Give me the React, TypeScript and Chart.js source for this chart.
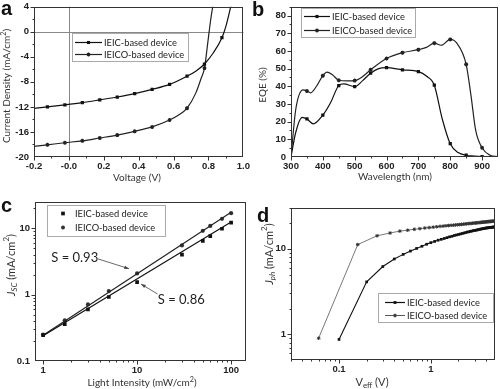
import React, { useEffect, useRef } from "react";
import { Chart, registerables } from "chart.js";
Chart.register(...registerables);

const FONT = "Lato, 'Liberation Sans', sans-serif";
const TICKFONT = "'Liberation Sans', Arial, sans-serif";
const AXIS = "#333";
const LABEL_IEIC = "IEIC-based device";
const LABEL_IEICO = "IEICO-based device";

// ---------- panel a : J-V ----------
const jvVoltIEIC = [-0.2, -0.123, -0.023, 0.077, 0.177, 0.277, 0.377, 0.477, 0.577, 0.677, 0.727, 0.777, 0.827, 0.877, 0.9, 0.93];
const jvCurIEIC = [-12.25, -12.0, -11.68, -11.32, -10.88, -10.42, -9.88, -9.2, -8.4, -7.1, -6.3, -5.15, -3.4, -0.95, 0.9, 4.3];
const jvMarkIEIC = [1, 2, 3, 4, 5, 6, 7, 8, 9, 11, 13];
const jvVoltIEICO = [-0.2, -0.123, -0.023, 0.077, 0.177, 0.277, 0.377, 0.477, 0.577, 0.627, 0.677, 0.727, 0.757, 0.777, 0.797, 0.812, 0.83];
const jvCurIEICO = [-18.3, -18.05, -17.72, -17.42, -16.97, -16.5, -15.9, -15.2, -14.1, -13.35, -12.2, -9.8, -7.5, -5.8, -1.5, 1.8, 5.0];
const jvMarkIEICO = [1, 2, 3, 4, 5, 6, 7, 8, 10, 13];
const aMinorX = [-0.1, 0.1, 0.3, 0.5, 0.7, 0.9];
const aMinorY = [-18, -14, -10, -6, -2, 2];

// ---------- panel b : EQE ----------
const eqeWlIEIC = [300, 315, 335, 350, 370, 400, 425, 450, 466, 500, 525, 550, 575, 600, 650, 700, 725, 750, 775, 800, 825, 850, 875, 900, 950];
const eqeIEIC = [0, 14, 22.4, 21.5, 18.7, 23.7, 31, 40.4, 41.3, 39.8, 43.2, 47.4, 50, 50.5, 49.3, 48.3, 45.8, 40.6, 21.5, 7.5, 2.5, 1.0, 0.5, 0.2, 0.1];
const eqeMarkIEIC = [3, 5, 7, 9, 11, 13, 14, 15, 17, 19, 21, 23];
const eqeWlIEICO = [300, 315, 338, 350, 362, 380, 400, 413, 430, 450, 475, 500, 525, 550, 600, 650, 700, 725, 750, 772, 800, 820, 850, 865, 880, 900, 925, 950];
const eqeIEICO = [0, 27, 38, 37.3, 36.3, 40, 46, 48, 46.5, 43.4, 43, 43.2, 45.5, 49.3, 55.7, 59, 60.7, 62, 64.4, 63.2, 66.5, 64.5, 52.4, 35, 15, 5.2, 1.0, 0.2];
const eqeMarkIEICO = [3, 6, 9, 11, 13, 14, 15, 16, 18, 20, 22, 25];
const bMinorX = [350, 450, 550, 650, 750, 850];
const bMinorY = [5, 15, 25, 35, 45, 55, 65, 75, 85];

// ---------- panel c : Jsc vs light intensity ----------
const lightInt = [1, 1.7, 3, 5, 10, 30, 50, 60, 80, 100];
const jscIEIC = [0.245, 0.36, 0.6, 0.92, 1.54, 4.0, 6.45, 7.6, 9.8, 12.1];
const jscIEICO = [0.25, 0.41, 0.71, 1.13, 2.08, 5.5, 9.1, 10.8, 13.8, 16.8];
const fitX = [1, 100];
const fitIEIC = [0.24, 12.4];
const fitIEICO = [0.245, 17.3];
const cTicksX = [1, 10, 100];
const cTicksY = [0.1, 1, 10];
const cMinorX = [2, 3, 4, 5, 6, 7, 8, 9, 20, 30, 40, 50, 60, 70, 80, 90];
const cMinorY = [0.2, 0.3, 0.4, 0.5, 0.6, 0.7, 0.8, 0.9, 2, 3, 4, 5, 6, 7, 8, 9, 20];
const cNotes = [
  { text: "S = 0.93", x: 2.17, y: 3.6 },
  { text: "S = 0.86", x: 29.5, y: 0.83 },
];
const cArrows = [
  { x0: 3.82, y0: 3.45, x1: 8.2, y1: 2.45 },
  { x0: 16.5, y0: 1.02, x1: 11.0, y1: 1.44 },
];

// ---------- panel d : Jph vs Veff ----------
const veffIEIC = [0.1, 0.2, 0.3, 0.4, 0.5, 0.6, 0.7, 0.8, 0.9, 1.0, 1.1, 1.2, 1.3, 1.4, 1.5, 1.6, 1.7, 1.8, 1.9, 2.0, 2.1, 2.2, 2.3, 2.4, 2.5, 2.6, 2.7, 2.8, 2.9, 3.0, 3.1, 3.2, 3.3, 3.4, 3.5, 3.6, 3.7, 3.8, 3.9, 4.0, 4.1, 4.2, 4.3, 4.4, 4.5, 4.6, 4.7, 4.8, 4.9, 5.0];
const jphIEIC = [0.87, 4.1, 6.2, 7.6, 8.6, 9.4, 10.1, 10.7, 11.3, 11.8, 12.2, 12.6, 12.9, 13.2, 13.5, 13.8, 14.0, 14.3, 14.5, 14.7, 14.9, 15.1, 15.3, 15.5, 15.7, 15.8, 16.0, 16.1, 16.3, 16.4, 16.5, 16.6, 16.8, 16.9, 17.0, 17.1, 17.2, 17.3, 17.4, 17.5, 17.55, 17.6, 17.7, 17.75, 17.8, 17.85, 17.9, 17.95, 18.0, 18.05];
const veffIEICO = [0.06, 0.16, 0.26, 0.36, 0.46, 0.56, 0.66, 0.76, 0.86, 0.96, 1.06, 1.16, 1.26, 1.36, 1.46, 1.56, 1.66, 1.76, 1.86, 1.96, 2.06, 2.16, 2.26, 2.36, 2.46, 2.56, 2.66, 2.76, 2.86, 2.96, 3.06, 3.16, 3.26, 3.36, 3.46, 3.56, 3.66, 3.76, 3.86, 3.96, 4.06, 4.16, 4.26, 4.36, 4.46, 4.56, 4.66, 4.76, 4.86, 4.96];
const jphIEICO = [0.9, 11.2, 14.2, 15.3, 16.1, 16.5, 16.9, 17.2, 17.5, 17.7, 17.9, 18.1, 18.3, 18.4, 18.6, 18.7, 18.8, 18.9, 19.0, 19.1, 19.2, 19.3, 19.4, 19.5, 19.6, 19.7, 19.75, 19.8, 19.9, 20.0, 20.05, 20.1, 20.2, 20.25, 20.3, 20.4, 20.45, 20.5, 20.55, 20.6, 20.7, 20.75, 20.8, 20.85, 20.9, 20.95, 21.0, 21.05, 21.1, 21.15];
const dTicksX = [0.1, 1];
const dTicksY = [1, 10];
const dMinorX = [0.03, 0.04, 0.05, 0.06, 0.07, 0.08, 0.09, 0.2, 0.3, 0.4, 0.5, 0.6, 0.7, 0.8, 0.9, 2, 3, 4, 5];
const dMinorY = [0.5, 0.6, 0.7, 0.8, 0.9, 2, 3, 4, 5, 6, 7, 8, 9, 20, 30];

type Seg = { t: string; it?: boolean; sub?: boolean; sup?: boolean };

function drawRich(ctx: CanvasRenderingContext2D, segs: Seg[], cx: number, cy: number, rot: boolean, size: number) {
  ctx.save();
  ctx.translate(cx, cy);
  if (rot) ctx.rotate(-Math.PI / 2);
  const fontOf = (s: Seg) => `${s.it ? "italic " : ""}${s.sub || s.sup ? size * 0.72 : size}px ${FONT}`;
  let w = 0;
  segs.forEach((s) => { ctx.font = fontOf(s); w += ctx.measureText(s.t).width; });
  let x = -w / 2;
  ctx.textBaseline = "middle";
  ctx.textAlign = "left";
  ctx.fillStyle = "#333";
  segs.forEach((s) => {
    ctx.font = fontOf(s);
    const dy = s.sub ? size * 0.32 : s.sup ? -size * 0.38 : 0;
    ctx.fillText(s.t, x, dy);
    x += ctx.measureText(s.t).width;
  });
  ctx.restore();
}

function drawMark(ctx: CanvasRenderingContext2D, style: string, x: number, y: number, r: number, color: string) {
  ctx.save();
  ctx.fillStyle = color;
  ctx.strokeStyle = color;
  if (style === "rect") {
    const s = r * Math.SQRT1_2;
    ctx.fillRect(x - s, y - s, 2 * s, 2 * s);
  } else if (style === "circle") {
    ctx.beginPath();
    ctx.arc(x, y, r, 0, Math.PI * 2);
    ctx.fill();
  } else {
    ctx.lineWidth = 1.2;
    ctx.beginPath();
    for (let k = 0; k < 4; k++) {
      const a = (k * Math.PI) / 4;
      ctx.moveTo(x - Math.cos(a) * r, y - Math.sin(a) * r);
      ctx.lineTo(x + Math.cos(a) * r, y + Math.sin(a) * r);
    }
    ctx.stroke();
  }
  ctx.restore();
}

const decorPlugin = {
  id: "decor",
  beforeDatasetsDraw(chart: any, _a: any, o: any) {
    if (!o || !o.zero) return;
    const { ctx, chartArea: ca, scales } = chart;
    ctx.save();
    ctx.strokeStyle = "#888";
    ctx.lineWidth = 1;
    const px = Math.round(scales.x.getPixelForValue(0)) + 0.5;
    const py = Math.round(scales.y.getPixelForValue(0)) + 0.5;
    ctx.beginPath();
    ctx.moveTo(px, ca.top);
    ctx.lineTo(px, ca.bottom);
    ctx.moveTo(ca.left, py);
    ctx.lineTo(ca.right, py);
    ctx.stroke();
    ctx.restore();
  },
  afterDraw(chart: any, _a: any, o: any) {
    const { ctx, chartArea: ca, scales } = chart;
    const xs = scales.x, ys = scales.y;
    ctx.save();
    ctx.strokeStyle = AXIS;
    ctx.lineWidth = 1;
    const L = Math.round(ca.left) + 0.5, R = Math.round(ca.right) - 0.5;
    const T = Math.round(ca.top) + 0.5, B = Math.round(ca.bottom) - 0.5;
    ctx.strokeRect(L, T, R - L, B - T);
    ctx.beginPath();
    const xt = (v: number, len: number) => {
      const p = Math.round(xs.getPixelForValue(v)) + 0.5;
      if (p < L - 0.6 || p > R + 0.6) return;
      ctx.moveTo(p, B); ctx.lineTo(p, B + len);
    };
    const yt = (v: number, len: number) => {
      const p = Math.round(ys.getPixelForValue(v)) + 0.5;
      if (p < T - 0.6 || p > B + 0.6) return;
      ctx.moveTo(L, p); ctx.lineTo(L - len, p);
    };
    xs.ticks.forEach((t: any) => xt(t.value, 4));
    (o.minorX || []).forEach((v: number) => xt(v, 2));
    ys.ticks.forEach((t: any) => yt(t.value, 4));
    (o.minorY || []).forEach((v: number) => yt(v, 2));
    ctx.stroke();

    if (o.legend) {
      const lg = o.legend;
      ctx.fillStyle = "#fff";
      ctx.fillRect(lg.x, lg.y, lg.w, lg.h);
      ctx.strokeStyle = "#aaa";
      ctx.strokeRect(lg.x + 0.5, lg.y + 0.5, lg.w, lg.h);
      lg.rows.forEach((r: any) => {
        if (r.x1 > r.x0) {
          ctx.strokeStyle = r.color;
          ctx.lineWidth = r.lw || 1.2;
          ctx.beginPath();
          ctx.moveTo(r.x0, r.y + 0.5);
          ctx.lineTo(r.x1, r.y + 0.5);
          ctx.stroke();
        }
        drawMark(ctx, r.mark, (r.x0 + r.x1) / 2, r.y + 0.5, r.mr || 2.2, r.color);
        ctx.fillStyle = "#222";
        ctx.font = `9.3px ${FONT}`;
        ctx.textBaseline = "middle";
        ctx.textAlign = "left";
        ctx.fillText(r.label, r.tx, r.y + 0.5);
      });
    }
    (o.arrows || []).forEach((a: any) => {
      const x0 = xs.getPixelForValue(a.x0), y0 = ys.getPixelForValue(a.y0);
      const x1 = xs.getPixelForValue(a.x1), y1 = ys.getPixelForValue(a.y1);
      const ang = Math.atan2(y1 - y0, x1 - x0);
      ctx.strokeStyle = "#444";
      ctx.fillStyle = "#444";
      ctx.lineWidth = 0.8;
      ctx.beginPath();
      ctx.moveTo(x0, y0);
      ctx.lineTo(x1, y1);
      ctx.stroke();
      ctx.beginPath();
      ctx.moveTo(x1, y1);
      ctx.lineTo(x1 - 5 * Math.cos(ang - 0.35), y1 - 5 * Math.sin(ang - 0.35));
      ctx.lineTo(x1 - 5 * Math.cos(ang + 0.35), y1 - 5 * Math.sin(ang + 0.35));
      ctx.closePath();
      ctx.fill();
    });
    (o.notes || []).forEach((n: any) => {
      ctx.fillStyle = "#222";
      ctx.font = `13px ${FONT}`;
      ctx.textAlign = "center";
      ctx.textBaseline = "middle";
      ctx.fillText(n.text, xs.getPixelForValue(n.x), ys.getPixelForValue(n.y));
    });
    (o.titles || []).forEach((t: any) => drawRich(ctx, t.segs, t.x, t.y, !!t.rot, t.size || 10));
    ctx.restore();
  },
};

const tickFont = { family: TICKFONT, size: 9.5, weight: "bold" as const };

function axis(extra: any, fit: (s: any) => void, padding: number) {
  return {
    grid: { display: false, drawTicks: true, tickLength: 4 },
    border: { display: false },
    afterFit: fit,
    ...extra,
    ticks: { font: tickFont, color: "#222", padding, maxRotation: 0, autoSkip: false, ...(extra.ticks || {}) },
  };
}

function pts(xs: number[], ys: number[]) {
  return xs.map((x, i) => ({ x, y: ys[i] }));
}

function marked(idx: number[], r: number) {
  return (c: any) => (idx.includes(c.dataIndex) ? r : 0);
}

function baseOpts(pad: any) {
  return {
    responsive: false,
    animation: false as const,
    devicePixelRatio: 1,
    layout: { padding: pad },
    plugins: { legend: { display: false }, tooltip: { enabled: false } },
    events: [] as any[],
  };
}

function cfgA(): any {
  return {
    type: "line",
    data: {
      datasets: [
        {
          data: pts(jvVoltIEIC, jvCurIEIC), borderColor: "#111", backgroundColor: "#111", borderWidth: 1.2,
          cubicInterpolationMode: "monotone", pointStyle: "rect", pointRadius: marked(jvMarkIEIC, 2.3), pointBorderWidth: 0, clip: 0,
        },
        {
          data: pts(jvVoltIEICO, jvCurIEICO), borderColor: "#222", backgroundColor: "#222", borderWidth: 1.2,
          cubicInterpolationMode: "monotone", pointStyle: "star", pointRadius: marked(jvMarkIEICO, 2), pointBorderWidth: 1.1, clip: 0,
        },
      ],
    },
    options: {
      ...baseOpts({ left: 0, right: 4, top: 5, bottom: 0 }),
      scales: {
        x: axis({ type: "linear", min: -0.2, max: 1.0, ticks: { stepSize: 0.2, callback: (v: any) => Number(v).toFixed(1) } }, (s) => { s.height = 38; }, 0),
        y: axis({ type: "linear", min: -20, max: 4, ticks: { stepSize: 4 } }, (s) => { s.width = 34; }, 1),
      },
      plugins: {
        legend: { display: false }, tooltip: { enabled: false },
        decor: {
          zero: true, minorX: aMinorX, minorY: aMinorY,
          legend: {
            x: 72, y: 33, w: 116, h: 28,
            rows: [
              { label: LABEL_IEIC, y: 42, x0: 75, x1: 102, tx: 104, mark: "rect", color: "#111" },
              { label: LABEL_IEICO, y: 54, x0: 75, x1: 102, tx: 104, mark: "star", color: "#222", mr: 2 },
            ],
          },
          titles: [
            { segs: [{ t: "Current Density (mA/cm" }, { t: "2", sup: true }, { t: ")" }], x: 7, y: 86, rot: true },
            { segs: [{ t: "Voltage (V)" }], x: 137, y: 178 },
          ],
        },
      },
    },
    plugins: [decorPlugin],
  };
}

function cfgB(): any {
  return {
    type: "line",
    data: {
      datasets: [
        {
          data: pts(eqeWlIEIC, eqeIEIC), borderColor: "#111", backgroundColor: "#111", borderWidth: 1.2,
          cubicInterpolationMode: "monotone", pointStyle: "rect", pointRadius: marked(eqeMarkIEIC, 2.3), pointBorderWidth: 0, clip: 0,
        },
        {
          data: pts(eqeWlIEICO, eqeIEICO), borderColor: "#222", backgroundColor: "#222", borderWidth: 1.2,
          cubicInterpolationMode: "monotone", pointStyle: "star", pointRadius: marked(eqeMarkIEICO, 2), pointBorderWidth: 1.1, clip: 0,
        },
      ],
    },
    options: {
      ...baseOpts({ left: 0, right: 2, top: 4, bottom: 0 }),
      scales: {
        x: axis({ type: "linear", min: 300, max: 950, ticks: { stepSize: 100, includeBounds: false } }, (s) => { s.height = 38; }, 0),
        y: axis({ type: "linear", min: 0, max: 85, ticks: { stepSize: 10, includeBounds: false } }, (s) => { s.width = 41; }, 1),
      },
      plugins: {
        legend: { display: false }, tooltip: { enabled: false },
        decor: {
          minorX: bMinorX, minorY: bMinorY,
          legend: {
            x: 51, y: 8, w: 114, h: 29,
            rows: [
              { label: LABEL_IEIC, y: 16, x0: 54, x1: 80, tx: 82, mark: "rect", color: "#111" },
              { label: LABEL_IEICO, y: 30, x0: 54, x1: 80, tx: 82, mark: "star", color: "#222", mr: 2 },
            ],
          },
          titles: [
            { segs: [{ t: "EQE (%)" }], x: 13, y: 85, rot: true },
            { segs: [{ t: "Wavelength (nm)" }], x: 145, y: 177 },
          ],
        },
      },
    },
    plugins: [decorPlugin],
  };
}

function logAxis(min: number, max: number, ticks: number[], fit: (s: any) => void, padding: number) {
  return axis(
    {
      type: "logarithmic", min, max,
      afterBuildTicks: (s: any) => { s.ticks = ticks.map((v) => ({ value: v })); },
      ticks: { callback: (v: any) => String(v) },
    },
    fit,
    padding
  );
}

function cfgC(): any {
  return {
    type: "scatter",
    data: {
      datasets: [
        { data: pts(fitX, fitIEIC), showLine: true, borderColor: "#111", borderWidth: 1.2, pointRadius: 0 },
        { data: pts(fitX, fitIEICO), showLine: true, borderColor: "#222", borderWidth: 1.2, pointRadius: 0 },
        { data: pts(lightInt, jscIEIC), showLine: false, pointStyle: "rect", pointRadius: 2.6, backgroundColor: "#111", borderWidth: 0 },
        { data: pts(lightInt, jscIEICO), showLine: false, pointStyle: "circle", pointRadius: 2.1, backgroundColor: "#333", borderWidth: 0 },
      ],
    },
    options: {
      ...baseOpts({ left: 0, right: 2, top: 2, bottom: 0 }),
      scales: {
        x: logAxis(0.82, 144, cTicksX, (s) => { s.height = 28; }, 0),
        y: logAxis(0.1, 25, cTicksY, (s) => { s.width = 35; }, 1),
      },
      plugins: {
        legend: { display: false }, tooltip: { enabled: false },
        decor: {
          minorX: cMinorX, minorY: cMinorY, notes: cNotes, arrows: cArrows,
          legend: {
            x: 47, y: 10, w: 118, h: 31,
            rows: [
              { label: LABEL_IEIC, y: 18, x0: 63, x1: 63, tx: 75, mark: "rect", color: "#111", mr: 2.6 },
              { label: LABEL_IEICO, y: 32, x0: 63, x1: 63, tx: 75, mark: "circle", color: "#333", mr: 2 },
            ],
          },
          titles: [
            { segs: [{ t: "J", it: true }, { t: "SC", it: true, sub: true }, { t: " (mA/cm" }, { t: "2", sup: true }, { t: ")" }], x: 11, y: 70, rot: true, size: 11 },
            { segs: [{ t: "Light Intensity (mW/cm" }, { t: "2", sup: true }, { t: ")" }], x: 142, y: 188 },
          ],
        },
      },
    },
    plugins: [decorPlugin],
  };
}

function cfgD(): any {
  return {
    type: "line",
    data: {
      datasets: [
        {
          data: pts(veffIEIC, jphIEIC), borderColor: "#111", backgroundColor: "#111", borderWidth: 1.1,
          tension: 0, pointStyle: "rect", pointRadius: 1.9, pointBorderWidth: 0,
        },
        {
          data: pts(veffIEICO, jphIEICO), borderColor: "#555", backgroundColor: "#333", borderWidth: 0.8,
          tension: 0, pointStyle: "star", pointRadius: 1.8, pointBorderWidth: 1, pointBorderColor: "#333",
        },
      ],
    },
    options: {
      ...baseOpts({ left: 0, right: 2, top: 13, bottom: 0 }),
      scales: {
        x: logAxis(0.03, 5, dTicksX, (s) => { s.height = 29; }, 0),
        y: logAxis(0.5, 30, dTicksY, (s) => { s.width = 41; }, 1),
      },
      plugins: {
        legend: { display: false }, tooltip: { enabled: false },
        decor: {
          minorX: dMinorX, minorY: dMinorY,
          legend: {
            x: 128, y: 98, w: 115, h: 29,
            rows: [
              { label: LABEL_IEIC, y: 107, x0: 135, x1: 155, tx: 157, mark: "rect", color: "#111", mr: 2 },
              { label: LABEL_IEICO, y: 120, x0: 135, x1: 155, tx: 157, mark: "star", color: "#444", mr: 1.8, lw: 0.9 },
            ],
          },
          titles: [
            { segs: [{ t: "J", it: true }, { t: "ph", it: true, sub: true }, { t: " (mA/cm" }, { t: "2", sup: true }, { t: ")" }], x: 19, y: 59, rot: true, size: 11 },
            { segs: [{ t: "V" }, { t: "eff", sub: true }, { t: " (V)" }], x: 122, y: 187, size: 11 },
          ],
        },
      },
    },
    plugins: [decorPlugin],
  };
}

const letterStyle = (left: number, top: number): React.CSSProperties => ({
  position: "absolute", left, top, fontFamily: "'Liberation Sans', Arial, sans-serif", fontWeight: "bold",
  fontSize: 20, lineHeight: "20px", color: "#111",
});

export default function App() {
  const ra = useRef<HTMLCanvasElement>(null);
  const rb = useRef<HTMLCanvasElement>(null);
  const rc = useRef<HTMLCanvasElement>(null);
  const rd = useRef<HTMLCanvasElement>(null);
  useEffect(() => {
    const charts = [
      new Chart(ra.current!, cfgA()),
      new Chart(rb.current!, cfgB()),
      new Chart(rc.current!, cfgC()),
      new Chart(rd.current!, cfgD()),
    ];
    return () => charts.forEach((c) => c.destroy());
  }, []);
  return (
    <div style={{ position: "fixed", left: 0, top: 0, width: 500, height: 389, background: "#fff", overflow: "hidden" }}>
      <canvas ref={ra} width={250} height={195} style={{ position: "absolute", left: 0, top: 0 }} />
      <canvas ref={rb} width={250} height={195} style={{ position: "absolute", left: 250, top: 0 }} />
      <canvas ref={rc} width={250} height={194} style={{ position: "absolute", left: 0, top: 195 }} />
      <canvas ref={rd} width={250} height={194} style={{ position: "absolute", left: 250, top: 195 }} />
      <div style={letterStyle(1, -2)}>a</div>
      <div style={letterStyle(252, -1)}>b</div>
      <div style={letterStyle(1, 195)}>c</div>
      <div style={letterStyle(257, 205)}>d</div>
    </div>
  );
}
